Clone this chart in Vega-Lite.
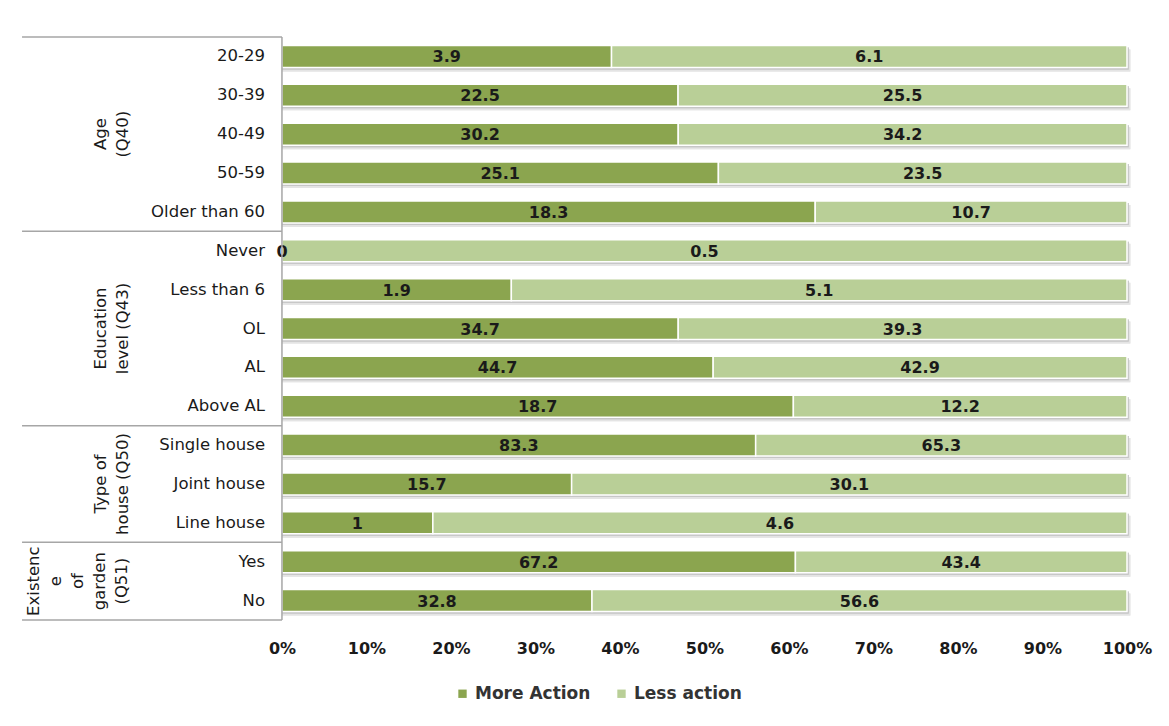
{
  "$schema": "https://vega.github.io/schema/vega-lite/v6.json",
  "width": 1107,
  "height": 583,
  "padding": {"left": 20, "top": 36, "right": 20, "bottom": 10},
  "background": "white",
  "config": {"view": {"stroke": null}, "font": "DejaVu Sans"},
  "data": {
    "values": [
      {"group": "Age (Q40)", "item": "20-29", "series": "More Action", "value": 3.9},
      {"group": "Age (Q40)", "item": "20-29", "series": "Less action", "value": 6.1},
      {"group": "Age (Q40)", "item": "30-39", "series": "More Action", "value": 22.5},
      {"group": "Age (Q40)", "item": "30-39", "series": "Less action", "value": 25.5},
      {"group": "Age (Q40)", "item": "40-49", "series": "More Action", "value": 30.2},
      {"group": "Age (Q40)", "item": "40-49", "series": "Less action", "value": 34.2},
      {"group": "Age (Q40)", "item": "50-59", "series": "More Action", "value": 25.1},
      {"group": "Age (Q40)", "item": "50-59", "series": "Less action", "value": 23.5},
      {"group": "Age (Q40)", "item": "Older than 60", "series": "More Action", "value": 18.3},
      {"group": "Age (Q40)", "item": "Older than 60", "series": "Less action", "value": 10.7},
      {"group": "Education level (Q43)", "item": "Never", "series": "More Action", "value": 0},
      {"group": "Education level (Q43)", "item": "Never", "series": "Less action", "value": 0.5},
      {"group": "Education level (Q43)", "item": "Less than 6", "series": "More Action", "value": 1.9},
      {"group": "Education level (Q43)", "item": "Less than 6", "series": "Less action", "value": 5.1},
      {"group": "Education level (Q43)", "item": "OL", "series": "More Action", "value": 34.7},
      {"group": "Education level (Q43)", "item": "OL", "series": "Less action", "value": 39.3},
      {"group": "Education level (Q43)", "item": "AL", "series": "More Action", "value": 44.7},
      {"group": "Education level (Q43)", "item": "AL", "series": "Less action", "value": 42.9},
      {"group": "Education level (Q43)", "item": "Above AL", "series": "More Action", "value": 18.7},
      {"group": "Education level (Q43)", "item": "Above AL", "series": "Less action", "value": 12.2},
      {"group": "Type of house (Q50)", "item": "Single house", "series": "More Action", "value": 83.3},
      {"group": "Type of house (Q50)", "item": "Single house", "series": "Less action", "value": 65.3},
      {"group": "Type of house (Q50)", "item": "Joint house", "series": "More Action", "value": 15.7},
      {"group": "Type of house (Q50)", "item": "Joint house", "series": "Less action", "value": 30.1},
      {"group": "Type of house (Q50)", "item": "Line house", "series": "More Action", "value": 1},
      {"group": "Type of house (Q50)", "item": "Line house", "series": "Less action", "value": 4.6},
      {"group": "Existence of garden (Q51)", "item": "Yes", "series": "More Action", "value": 67.2},
      {"group": "Existence of garden (Q51)", "item": "Yes", "series": "Less action", "value": 43.4},
      {"group": "Existence of garden (Q51)", "item": "No", "series": "More Action", "value": 32.8},
      {"group": "Existence of garden (Q51)", "item": "No", "series": "Less action", "value": 56.6}
    ]
  },
  "encoding": {
    "y": {
      "field": "item",
      "type": "nominal",
      "axis": null,
      "scale": {
        "domain": ["20-29", "30-39", "40-49", "50-59", "Older than 60", "Never", "Less than 6", "OL", "AL", "Above AL", "Single house", "Joint house", "Line house", "Yes", "No"],
        "paddingInner": 0,
        "paddingOuter": 0
      }
    }
  },
  "layer": [
    {
      "mark": {"type": "bar", "size": 22, "yOffset": 4, "color": "#e4e4e4"},
      "encoding": {"x": {"datum": 0}, "x2": {"datum": 1.004}}
    },
    {
      "mark": {"type": "bar", "size": 22, "yOffset": 2, "color": "#c6c6c6"},
      "encoding": {"x": {"datum": 0}, "x2": {"datum": 1.002}}
    },
    {
      "mark": {"type": "bar", "size": 22, "stroke": "white", "strokeWidth": 1.5},
      "encoding": {
        "x": {
          "field": "value",
          "type": "quantitative",
          "stack": "normalize",
          "scale": {"domain": [-0.31, 1], "nice": false, "zero": false},
          "axis": {
            "title": null,
            "values": [0, 0.1, 0.2, 0.3, 0.4, 0.5, 0.6, 0.7, 0.8, 0.9, 1],
            "format": ".0%",
            "domain": false,
            "ticks": false,
            "tickSize": 0,
            "grid": false,
            "labelFlush": false,
            "labelOverlap": false,
            "labelPadding": 20,
            "labelFont": "DejaVu Sans",
            "labelFontWeight": "bold",
            "labelFontSize": 16,
            "labelColor": "#1a1a1a"
          }
        },
        "color": {
          "field": "series",
          "type": "nominal",
          "scale": {"domain": ["More Action", "Less action"], "range": ["#8ba54f", "#b9cf97"]},
          "legend": {
            "title": null,
            "orient": "none",
            "legendX": 434,
            "legendY": 648,
            "direction": "horizontal",
            "symbolType": "square",
            "symbolSize": 70,
            "symbolStrokeWidth": 0,
            "labelFont": "DejaVu Sans",
            "labelFontWeight": "bold",
            "labelFontSize": 17,
            "labelColor": "#333333",
            "columnPadding": 22,
            "labelOffset": 4
          }
        },
        "order": {"field": "series", "sort": "descending"}
      }
    },
    {
      "mark": {"type": "text", "font": "DejaVu Sans", "fontWeight": "bold", "fontSize": 16, "color": "#1a1a1a", "baseline": "middle", "dy": 1},
      "encoding": {
        "x": {"field": "value", "type": "quantitative", "stack": "normalize", "bandPosition": 0.5},
        "text": {"field": "value", "type": "quantitative"},
        "order": {"field": "series", "sort": "descending"}
      }
    },
    {
      "transform": [{"filter": "datum.series == 'More Action'"}],
      "mark": {"type": "text", "font": "DejaVu Sans", "fontSize": 16.5, "color": "#1a1a1a", "align": "right", "baseline": "middle"},
      "encoding": {
        "x": {"datum": -0.02},
        "text": {"field": "item", "type": "nominal"}
      }
    },
    {
      "data": {
        "values": [
          {"label": "Age\n(Q40)", "anchor": "40-49"},
          {"label": "Education\nlevel (Q43)", "anchor": "OL"},
          {"label": "Type of\nhouse (Q50)", "anchor": "Joint house"}
        ]
      },
      "mark": {"type": "text", "font": "DejaVu Sans", "fontSize": 16.5, "color": "#1a1a1a", "align": "center", "baseline": "middle", "angle": 270, "lineBreak": "\n", "lineHeight": 22},
      "encoding": {
        "x": {"datum": -0.2142},
        "y": {"field": "anchor", "type": "nominal", "axis": null},
        "text": {"field": "label", "type": "nominal"}
      }
    },
    {
      "data": {"values": [{"label": "Existenc\ne\nof\ngarden\n(Q51)", "anchor": "Yes"}]},
      "mark": {"type": "text", "font": "DejaVu Sans", "fontSize": 16.5, "color": "#1a1a1a", "align": "center", "baseline": "middle", "angle": 270, "lineBreak": "\n", "lineHeight": 22},
      "encoding": {
        "x": {"datum": -0.2935},
        "y": {"field": "anchor", "type": "nominal", "axis": null, "bandPosition": 1},
        "text": {"field": "label", "type": "nominal"}
      }
    },
    {
      "data": {"values": [{"edge": "20-29"}, {"edge": "Never"}, {"edge": "Single house"}, {"edge": "Yes"}]},
      "mark": {"type": "rule", "color": "#a6a6a6", "strokeWidth": 1.5},
      "encoding": {
        "x": {"datum": -0.3076},
        "x2": {"datum": 0},
        "y": {"field": "edge", "type": "nominal", "axis": null, "bandPosition": 0}
      }
    },
    {
      "data": {"values": [{"edge": "No"}]},
      "mark": {"type": "rule", "color": "#a6a6a6", "strokeWidth": 1.5},
      "encoding": {
        "x": {"datum": -0.3076},
        "x2": {"datum": 0},
        "y": {"field": "edge", "type": "nominal", "axis": null, "bandPosition": 1}
      }
    },
    {
      "data": {"values": [{"edge": "axis"}]},
      "mark": {"type": "rule", "color": "#a6a6a6", "strokeWidth": 1.5},
      "encoding": {"x": {"datum": 0}, "y": null}
    }
  ]
}
